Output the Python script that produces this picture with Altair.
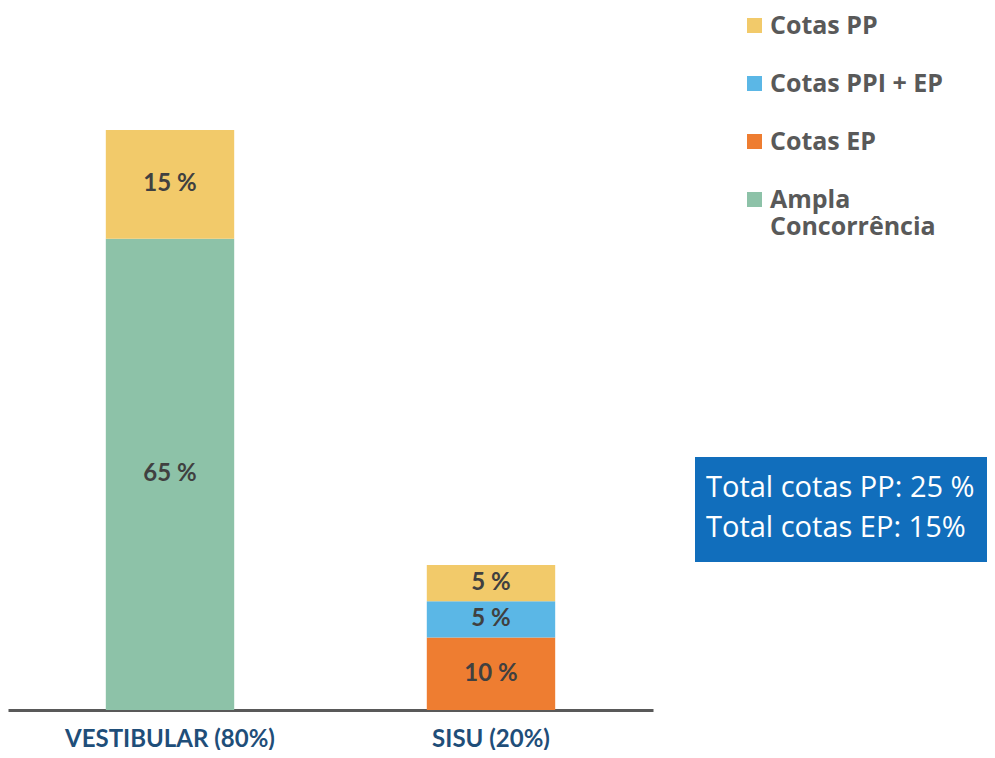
import altair as alt
import pandas as pd

# ---- data ----
modalities = ["VESTIBULAR (80%)", "VESTIBULAR (80%)", "SISU (20%)", "SISU (20%)", "SISU (20%)"]
groups = ["Ampla Concorrência", "Cotas PP", "Cotas EP", "Cotas PPI + EP", "Cotas PP"]
values = [65, 15, 10, 5, 5]
stack_order = {"Ampla Concorrência": 0, "Cotas EP": 1, "Cotas PPI + EP": 2, "Cotas PP": 3}

legend_order = ["Cotas PP", "Cotas PPI + EP", "Cotas EP", "Ampla Concorrência"]
legend_colors = ["#F2CA6A", "#5BB7E6", "#EE7D31", "#8DC2A8"]
category_order = ["VESTIBULAR (80%)", "SISU (20%)"]

note_lines = ["Total cotas PP: 25 %", "Total cotas EP: 15%"]

df = pd.DataFrame({
    "modalidade": modalities,
    "grupo": groups,
    "valor": values,
    "ordem": [stack_order[g] for g in groups],
})
df["rotulo"] = df["valor"].astype(str) + " %"

base = alt.Chart(df).transform_stack(
    stack="valor",
    as_=["y0", "y1"],
    groupby=["modalidade"],
    sort=[alt.SortField("ordem", order="ascending")],
).transform_calculate(mid="(datum.y0 + datum.y1) / 2")

xenc = alt.X(
    "modalidade:N",
    sort=category_order,
    scale=alt.Scale(paddingInner=0.6, paddingOuter=0.3047),
    axis=alt.Axis(
        title=None, ticks=False, labelAngle=0, grid=False,
        domainColor="#595959", domainWidth=3,
        labelFont="Lato", labelFontSize=24, labelFontWeight="bold",
        labelColor="#1F4E79", labelPadding=17, labelLimit=400,
    ),
)
yscale = alt.Scale(domain=[0, 80], nice=False, zero=True)

bars = base.mark_bar().encode(
    x=xenc,
    y=alt.Y("y0:Q", scale=yscale, axis=None),
    y2="y1:Q",
    color=alt.Color(
        "grupo:N",
        scale=alt.Scale(domain=legend_order, range=legend_colors),
        legend=alt.Legend(
            title=None, orient="none", legendX=734, legendY=-117,
            symbolType="square", symbolSize=225, symbolStrokeWidth=0, symbolOpacity=1,
            labelFont="Open Sans", labelFontSize=25, labelFontWeight="bold",
            labelColor="#595959", labelOffset=3, rowPadding=32, labelLimit=300,
            labelExpr="datum.value == 'Ampla Concorrência' ? ['Ampla', 'Concorrência'] : datum.label",
            labelBaseline="middle",
        ),
    ),
)

labels = base.mark_text(
    font="Lato", fontSize=24, fontWeight="bold", color="#404040"
).encode(
    x=alt.X("modalidade:N", sort=category_order),
    y=alt.Y("mid:Q", scale=yscale),
    text="rotulo:N",
)

note_df = pd.DataFrame({"linha": note_lines})
box = alt.Chart(pd.DataFrame({"k": [0]})).mark_rect(color="#116EBC").encode(
    x=alt.value(687), x2=alt.value(990), y=alt.value(327), y2=alt.value(432)
)
note1 = alt.Chart(note_df.iloc[[0]]).mark_text(
    font="Open Sans", fontSize=29, color="white", align="left", baseline="middle"
).encode(x=alt.value(698), y=alt.value(358), text="linha:N")
note2 = alt.Chart(note_df.iloc[[1]]).mark_text(
    font="Open Sans", fontSize=29, color="white", align="left", baseline="middle"
).encode(x=alt.value(698), y=alt.value(398), text="linha:N")

chart = alt.layer(bars, labels, box, note1, note2).properties(
    width=645, height=580,
    autosize=alt.AutoSizeParams(type="none"),
    padding={"left": 0, "top": 122, "right": 334, "bottom": 40},
).configure(background="white").configure_view(strokeWidth=0)

chart.save("out.html", embed_options={"renderer": "svg", "actions": False})
